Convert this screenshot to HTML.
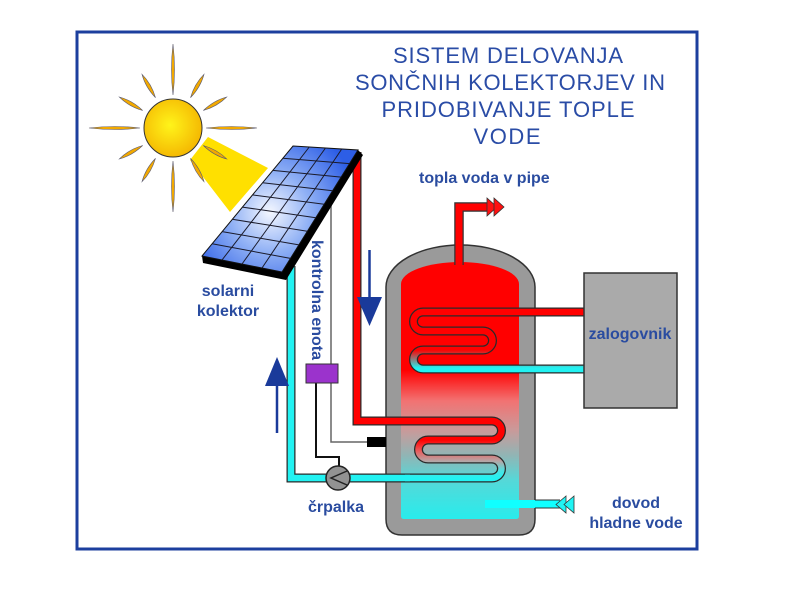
<!DOCTYPE html>
<html><head><meta charset="utf-8"><style>
html,body{margin:0;padding:0;background:#fff;width:800px;height:600px;overflow:hidden}
svg{display:block}
.lbl{font-family:"Liberation Sans",Arial,sans-serif;font-weight:bold;font-size:16px;fill:#2a4ca0}
.ttl{font-family:"Liberation Sans",Arial,sans-serif;font-size:22px;fill:#2a4ca6}
</style></head><body>
<svg width="800" height="600" viewBox="0 0 800 600" xmlns="http://www.w3.org/2000/svg">
<defs>
<radialGradient id="sunG" cx="0.45" cy="0.45" r="0.6">
<stop offset="0" stop-color="#fff41a"/><stop offset="1" stop-color="#f4b400"/>
</radialGradient>
<radialGradient id="panelG" gradientUnits="userSpaceOnUse" cx="270" cy="212" r="90">
<stop offset="0" stop-color="#f4f7ff"/><stop offset="0.45" stop-color="#8fb0f5"/><stop offset="1" stop-color="#2d5ee6"/>
</radialGradient>
<linearGradient id="tankG" gradientUnits="userSpaceOnUse" x1="0" y1="262" x2="0" y2="519">
<stop offset="0" stop-color="#ff0000"/>
<stop offset="0.42" stop-color="#ff0000"/>
<stop offset="0.54" stop-color="#f27272"/>
<stop offset="0.655" stop-color="#c99a9a"/>
<stop offset="0.75" stop-color="#92b4b4"/>
<stop offset="0.85" stop-color="#55d8d8"/>
<stop offset="1" stop-color="#28ecec"/>
</linearGradient>
<linearGradient id="coilTop" gradientUnits="userSpaceOnUse" x1="0" y1="350" x2="0" y2="368">
<stop offset="0" stop-color="#ff0000"/><stop offset="1" stop-color="#22f2f2"/>
</linearGradient>
<linearGradient id="coilBot" gradientUnits="userSpaceOnUse" x1="0" y1="440" x2="0" y2="478">
<stop offset="0" stop-color="#ff0000"/>
<stop offset="0.3" stop-color="#e86060"/>
<stop offset="0.55" stop-color="#b8a4a4"/>
<stop offset="0.8" stop-color="#50e0e0"/>
<stop offset="1" stop-color="#22f2f2"/>
</linearGradient>
</defs>

<!-- frame -->
<rect x="77" y="32" width="620" height="517" fill="none" stroke="#1c3f9e" stroke-width="3"/>

<!-- beam -->
<polygon points="208,137 268,168 230,212 190,160" fill="#ffe000"/>

<!-- rays -->
<g fill="#f2a900" stroke="#5a5a70" stroke-width="0.6">
<path d="M173,95 Q176,69.5 173,44 Q170,69.5 173,95Z"/>
<path d="M173,95 Q176,69.5 173,44 Q170,69.5 173,95Z" transform="rotate(90 173 128)"/>
<path d="M173,95 Q176,69.5 173,44 Q170,69.5 173,95Z" transform="rotate(180 173 128)"/>
<path d="M173,95 Q176,69.5 173,44 Q170,69.5 173,95Z" transform="rotate(270 173 128)"/>
<path d="M173,93 Q176.5,79 173,66 Q169.5,79 173,93Z" transform="rotate(30 173 128)"/>
<path d="M173,93 Q176.5,79 173,66 Q169.5,79 173,93Z" transform="rotate(60 173 128)"/>
<path d="M173,93 Q176.5,79 173,66 Q169.5,79 173,93Z" transform="rotate(120 173 128)"/>
<path d="M173,93 Q176.5,79 173,66 Q169.5,79 173,93Z" transform="rotate(150 173 128)"/>
<path d="M173,93 Q176.5,79 173,66 Q169.5,79 173,93Z" transform="rotate(210 173 128)"/>
<path d="M173,93 Q176.5,79 173,66 Q169.5,79 173,93Z" transform="rotate(240 173 128)"/>
<path d="M173,93 Q176.5,79 173,66 Q169.5,79 173,93Z" transform="rotate(300 173 128)"/>
<path d="M173,93 Q176.5,79 173,66 Q169.5,79 173,93Z" transform="rotate(330 173 128)"/>
</g>
<circle cx="173" cy="128" r="29" fill="url(#sunG)" stroke="#333" stroke-width="1"/>

<!-- title -->
<text class="ttl" x="508" y="63" text-anchor="middle" textLength="230" lengthAdjust="spacing">SISTEM DELOVANJA</text>
<text class="ttl" x="510" y="90" text-anchor="middle" textLength="310" lengthAdjust="spacing">SONČNIH KOLEKTORJEV IN</text>
<text class="ttl" x="508" y="117" text-anchor="middle" textLength="253" lengthAdjust="spacing">PRIDOBIVANJE TOPLE</text>
<text class="ttl" x="507" y="144" text-anchor="middle" textLength="67" lengthAdjust="spacing">VODE</text>

<!-- tank -->
<path d="M386,287 A74.5,42 0 0 1 535,287 V519 Q535,535 519,535 H402 Q386,535 386,519 Z" fill="#9a9a9a" stroke="#333" stroke-width="1.5"/>
<path d="M401,284 A59,22 0 0 1 519,284 V516 Q519,519 516,519 H404 Q401,519 401,516 Z" fill="url(#tankG)"/>

<!-- hot outlet -->
<path d="M459,265 V207 H489" fill="none" stroke="#333" stroke-width="9.5"/>
<path d="M459,266 V207 H489" fill="none" stroke="#ff0000" stroke-width="7"/>
<polygon points="487,198 497,207 487,216" fill="#ff1010" stroke="#333" stroke-width="0.8"/>
<polygon points="494,198 504,207 494,216" fill="#ff1010" stroke="#333" stroke-width="0.8"/>

<!-- cold inlet -->
<rect x="485" y="500" width="52" height="8" fill="#10ffff"/>
<path d="M535,504 H560" fill="none" stroke="#333" stroke-width="9"/>
<path d="M534,504 H560" fill="none" stroke="#10ffff" stroke-width="7"/>
<polygon points="566,496 556,504.5 566,513" fill="#20f4f4" stroke="#333" stroke-width="0.8"/>
<polygon points="574,496 564,504.5 574,513" fill="#20f4f4" stroke="#333" stroke-width="0.8"/>

<!-- top coil -->
<path d="M584,312 H423 A9.5,9.5 0 0 0 423,331 H483 A9.5,9.5 0 0 1 483,350 H423 A9.5,9.5 0 0 0 423,369 H584" fill="none" stroke="#2a2a2a" stroke-width="9"/>
<path d="M584,312 H423 A9.5,9.5 0 0 0 423,331 H483 A9.5,9.5 0 0 1 483,350 H423 A9.5,9.5 0 0 0 423,369 H584" fill="none" stroke="url(#coilTop)" stroke-width="6.5"/>

<!-- zalogovnik -->
<rect x="584" y="273" width="93" height="135" fill="#aaaaaa" stroke="#333" stroke-width="1.5"/>

<!-- wires -->
<polyline points="331,195 331,442 367,442" fill="none" stroke="#666" stroke-width="1.5"/>
<polyline points="316,383 316,457 339,457 339,466" fill="none" stroke="#111" stroke-width="2"/>

<!-- solar loop -->
<path d="M357,152 V421 H492 A9.5,9.5 0 0 1 492,440 H428 A9.5,9.5 0 0 0 428,459 H492 A9.5,9.5 0 0 1 492,478 H291 V266" fill="none" stroke="#2a2a2a" stroke-width="9"/>
<path d="M357,152 V421 H492 A9.5,9.5 0 0 1 492,440 H428 A9.5,9.5 0 0 0 428,459 H492 A9.5,9.5 0 0 1 492,478 H405" fill="none" stroke="url(#coilBot)" stroke-width="6.5"/>
<path d="M410,478 H291 V266" fill="none" stroke="#22f2f2" stroke-width="6.5"/>

<!-- pump -->
<circle cx="338" cy="478" r="12" fill="#929292" stroke="#222" stroke-width="1.5"/>
<polyline points="347,471 331,478 347,485" fill="none" stroke="#222" stroke-width="1.5"/>

<!-- control box & sensor -->
<rect x="306" y="364" width="32" height="19" fill="#9b33cc" stroke="#333" stroke-width="1"/>
<rect x="367" y="437" width="19" height="10" fill="#000"/>

<!-- panel -->
<polygon points="202,256 282,272 358,150 363,155 286,280 203,263" fill="#000"/>
<polygon points="293,146 358,150 282,272 202,256" fill="url(#panelG)" stroke="#111" stroke-width="1"/>
<g stroke="#1a1a2a" stroke-width="1">
<line x1="309.25" y1="147" x2="222" y2="260"/>
<line x1="325.5" y1="148" x2="242" y2="264"/>
<line x1="341.75" y1="149" x2="262" y2="268"/>
<line x1="282.9" y1="158.2" x2="349.6" y2="163.6"/>
<line x1="272.8" y1="170.4" x2="341.1" y2="177.1"/>
<line x1="262.7" y1="182.7" x2="332.7" y2="190.7"/>
<line x1="252.6" y1="194.9" x2="324.2" y2="204.2"/>
<line x1="242.4" y1="207.1" x2="315.8" y2="217.8"/>
<line x1="232.3" y1="219.3" x2="307.3" y2="231.3"/>
<line x1="222.2" y1="231.6" x2="298.9" y2="244.9"/>
<line x1="212.1" y1="243.8" x2="290.4" y2="258.4"/>
</g>

<!-- flow arrows -->
<line x1="369.5" y1="250" x2="369.5" y2="300" stroke="#1a3a9a" stroke-width="2.5"/>
<polygon points="357,297 382,297 369.5,326" fill="#1a3a9a"/>
<line x1="277" y1="433" x2="277" y2="383" stroke="#1a3a9a" stroke-width="2.5"/>
<polygon points="265,386 289,386 277,357" fill="#1a3a9a"/>

<!-- labels -->
<text class="lbl" x="419" y="183">topla voda v pipe</text>
<text class="lbl" x="228" y="296" text-anchor="middle">solarni</text>
<text class="lbl" x="228" y="316" text-anchor="middle">kolektor</text>
<text class="lbl" x="312" y="240" transform="rotate(90 312 240)">kontrolna enota</text>
<text class="lbl" x="336" y="512" text-anchor="middle">črpalka</text>
<text class="lbl" x="630" y="339" text-anchor="middle">zalogovnik</text>
<text class="lbl" x="636" y="508" text-anchor="middle">dovod</text>
<text class="lbl" x="636" y="528" text-anchor="middle">hladne vode</text>
</svg>
</body></html>
